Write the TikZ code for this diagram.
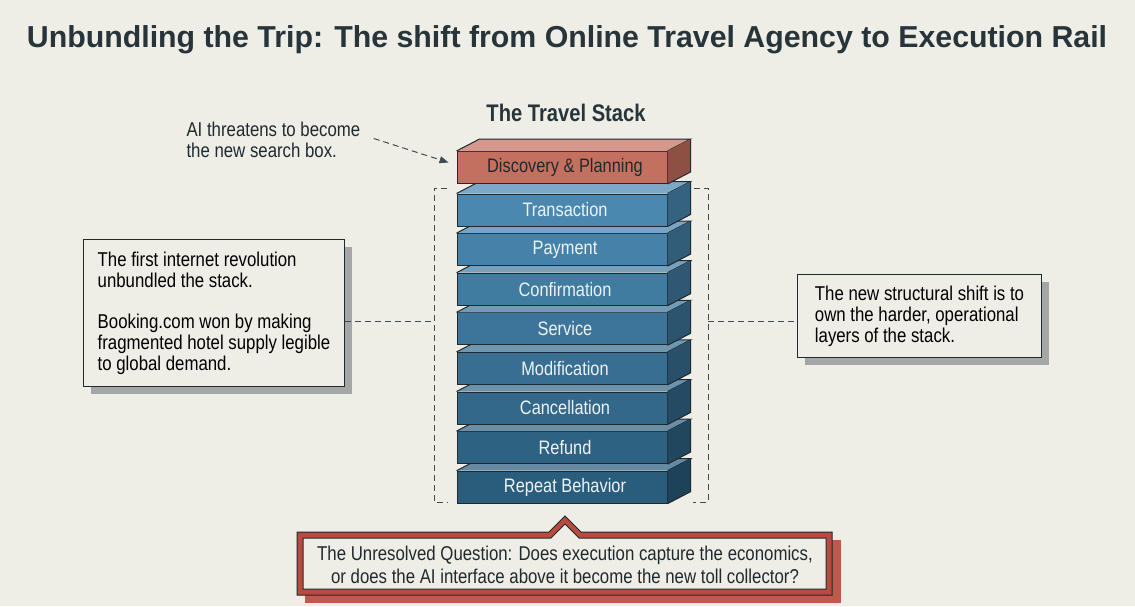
\documentclass[tikz,border=0pt]{standalone}
\usepackage{fontspec}
\setmainfont{Liberation Sans}[FakeStretch=0.84]
\newfontfamily\titlefont{Liberation Sans}[FakeStretch=1.0]
\usetikzlibrary{arrows.meta,shadows}
\definecolor{bg}{HTML}{EEEDE6}
\definecolor{ink}{HTML}{1F2A30}
\definecolor{titleink}{HTML}{27343A}
\definecolor{blueA}{HTML}{4A88B0}
\definecolor{blueB}{HTML}{2A5C7C}
\definecolor{redfront}{HTML}{C4705F}
\definecolor{calred}{HTML}{B84B3D}
\definecolor{shade}{HTML}{A4A7A5}
\tikzset{
  layer/.style={draw=ink, line width=1pt, minimum width=210pt, minimum height=32pt, inner sep=0pt, font=\fontsize{19.5}{21}\selectfont},
  notebox/.style={draw=ink, line width=1pt, fill=bg, align=left, anchor=north west, inner sep=0pt, font=\fontsize{20}{21}\selectfont,
    drop shadow={shadow xshift=7pt, shadow yshift=-7pt, fill=shade, opacity=1}},
  bracket/.style={dashed, dash pattern=on 6pt off 4pt, line width=1pt, draw=ink!85},
  txt/.style={font=\fontsize{20}{23}\selectfont, text=ink}
}
% #1 name, #2 center y, #3 front colour, #4 text colour, #5 label
\newcommand\stacklayer[5]{%
  \node[layer, fill=#3, text=#4] (#1) at (562,#2) {\hspace*{6pt}#5};
  \fill[#3!72!white] (#1.north west) -- ++(23,-12) -- ([xshift=23pt,yshift=12pt]#1.north east) -- (#1.north east) -- cycle;
  \draw[ink, line width=1pt] (#1.north west) -- ++(23,-12) -- ([xshift=23pt,yshift=12pt]#1.north east) -- (#1.north east);
  \fill[#3!72!black] (#1.north east) -- ++(23,-12) -- ([xshift=23pt,yshift=12pt]#1.south east) -- (#1.south east) -- cycle;
  \draw[ink, line width=1pt] ([xshift=23pt,yshift=12pt]#1.north east) -- ([xshift=23pt,yshift=12pt]#1.south east) -- (#1.south east);
}
\begin{document}
\begin{tikzpicture}[x=1pt,y=-1pt]
\fill[bg] (0,0) rectangle (1135,606);
\useasboundingbox (0,0) rectangle (1135,606);

% title
\node[font=\titlefont\bfseries\fontsize{30.3}{34}\selectfont, text=titleink] (title) at (567,40) {Unbundling the Trip: The shift from Online Travel Agency to Execution Rail};
\node[font=\bfseries\fontsize{24}{27}\selectfont, text=titleink] (stacktitle) at (566,113) {The Travel Stack};

% dashed bracket
\coordinate (brL) at (434,321);
\coordinate (brR) at (708,321);
\draw[bracket] (447,188) -- (434,188) -- (434,502) -- (448,502);
\draw[bracket] (694,188) -- (708,188) -- (708,502) -- (693,502);

% stack (bottom up)
\stacklayer{L8}{487.2}{blueA!0!blueB}{white!90!blueA}{Repeat Behavior}
\stacklayer{L7}{447.6}{blueA!14!blueB}{white!90!blueA}{Refund}
\stacklayer{L6}{408.0}{blueA!28!blueB}{white!90!blueA}{Cancellation}
\stacklayer{L5}{368.4}{blueA!42!blueB}{white!90!blueA}{Modification}
\stacklayer{L4}{328.8}{blueA!56!blueB}{white!90!blueA}{Service}
\stacklayer{L3}{289.2}{blueA!70!blueB}{white!90!blueA}{Confirmation}
\stacklayer{L2}{249.6}{blueA!85!blueB}{white!90!blueA}{Payment}
\stacklayer{L1}{210.0}{blueA!100!blueB}{white!90!blueA}{Transaction}
\stacklayer{L0}{167.5}{redfront}{ink}{Discovery \& Planning}

% AI note
\node[txt, align=left, anchor=west, font=\fontsize{20}{21}\selectfont] (ai) at (183,139.5) {AI threatens to become\\the new search box.};
\draw[bracket, -{Triangle[length=9pt,width=7pt]}] ([xshift=10pt,yshift=1pt]ai.east) -- ([xshift=-8pt,yshift=5pt]L0.west);

% left box
\node[notebox, minimum width=261pt, minimum height=147pt] (lbox) at (83,239)
  {The first internet revolution\\unbundled the stack.\\[20pt]Booking.com won by making\\fragmented hotel supply legible\\to global demand.};
\draw[bracket] (brL -| lbox.east) -- (brL);

% right box
\node[notebox, minimum width=244pt, minimum height=83pt] (rbox) at (797,274)
  {The new structural shift is to\\own the harder, operational\\layers of the stack.};
\draw[bracket] (brR) -- (brR -| rbox.west);

% bottom callout
\fill[calred!92!white] (305,540) rectangle (841,603);
\filldraw[fill=calred, draw=ink, line width=1pt] (297,532) -- (549,532) -- (565,516) -- (581,532) -- (832,532) -- (832,595) -- (297,595) -- cycle;
\filldraw[fill=bg, draw=ink, line width=1pt] (303,538) -- (551,538) -- (565,524) -- (579,538) -- (826,538) -- (826,589) -- (303,589) -- cycle;
\node[txt, align=center] (q) at (565,565) {The Unresolved Question: Does execution capture the economics,\\or does the AI interface above it become the new toll collector?};
\end{tikzpicture}
\end{document}
